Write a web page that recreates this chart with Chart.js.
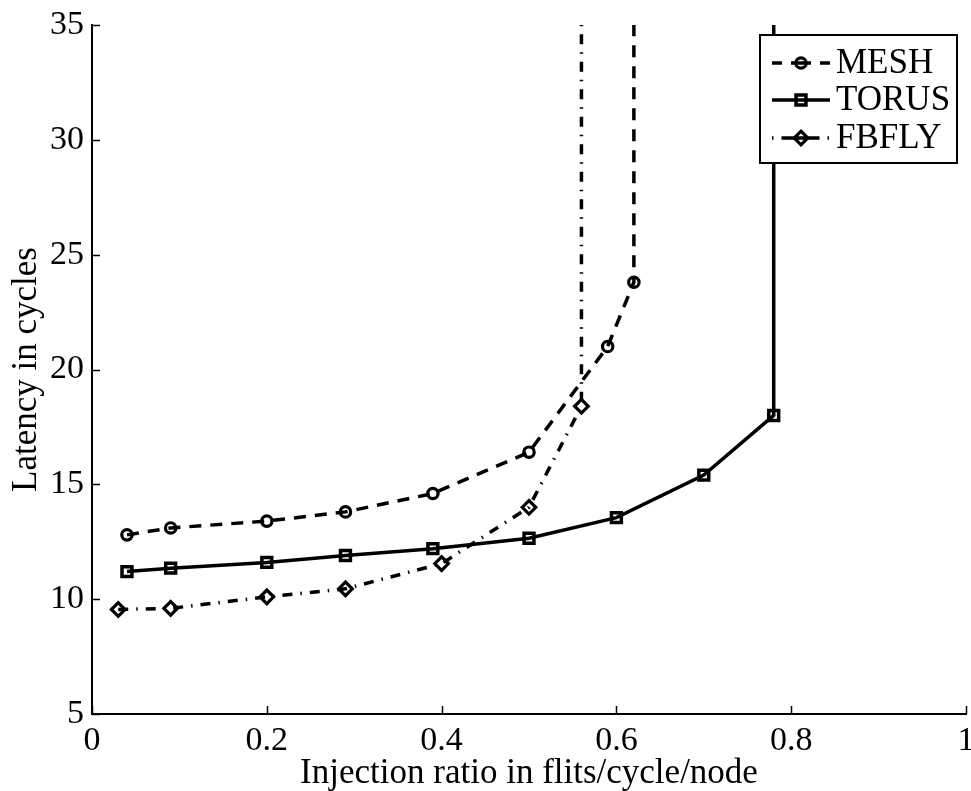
<!DOCTYPE html>
<html>
<head>
<meta charset="utf-8">
<script src="https://cdn.jsdelivr.net/npm/chart.js@4.4.0/dist/chart.umd.min.js"></script>
<style>
  body { margin: 0; background: #fff; }
  canvas { display: block; }
</style>
</head>
<body>
<canvas id="myChart" width="971" height="791"></canvas>
<script>
// values; last point of each series is where it shoots off the top
var meshX  = [0.04, 0.09, 0.2, 0.29, 0.39, 0.5, 0.59, 0.62, 0.62];
var meshY  = [12.8, 13.1, 13.4, 13.8, 14.6, 16.4, 21.0, 23.8, 35];
var torusX = [0.04, 0.09, 0.2, 0.29, 0.39, 0.5, 0.6, 0.7, 0.78, 0.78];
var torusY = [11.2, 11.35, 11.6, 11.9, 12.2, 12.65, 13.55, 15.4, 18.0, 35];
var fbflyX = [0.03, 0.09, 0.2, 0.29, 0.4, 0.5, 0.56, 0.56];
var fbflyY = [9.55, 9.6, 10.1, 10.45, 11.55, 14.0, 18.4, 35];

var seriesNames = ["MESH", "TORUS", "FBFLY"];
var xTitle = "Injection ratio in flits/cycle/node";
var yTitle = "Latency in cycles";

function toPoints(xs, ys) {
  var pts = [];
  for (var i = 0; i < xs.length; i++) {
    pts.push({ x: xs[i], y: ys[i] });
  }
  return pts;
}

Chart.defaults.font.family = "'Liberation Serif', 'Times New Roman', serif";
Chart.defaults.font.size = 34;
Chart.defaults.color = "#000";

var markerSize = { circle: 5.2, rect: 7, rectRot: 6.8 };

function radiusFor(style) {
  return function (ctx) {
    return ctx.raw && ctx.raw.y >= 35 ? 0 : markerSize[style];
  };
}

// MATLAB style ticks: drawn inside the axes
var innerTicks = {
  id: "innerTicks",
  afterDraw: function (chart) {
    var ctx = chart.ctx;
    var area = chart.chartArea;
    var xs = chart.scales.x, ys = chart.scales.y;
    ctx.save();
    ctx.strokeStyle = "#000";
    ctx.lineWidth = 1.5;
    ctx.beginPath();
    xs.ticks.forEach(function (t) {
      var px = Math.round(xs.getPixelForValue(t.value)) + 0.5;
      ctx.moveTo(px, area.bottom);
      ctx.lineTo(px, area.bottom - 8);
    });
    ys.ticks.forEach(function (t) {
      var py = Math.round(ys.getPixelForValue(t.value)) + 0.5;
      ctx.moveTo(area.left, py);
      ctx.lineTo(area.left + 8, py);
    });
    ctx.stroke();
    ctx.restore();
  }
};

function drawMarker(ctx, style, r, x, y) {
  ctx.beginPath();
  if (style === "circle") {
    ctx.arc(x, y, r, 0, Math.PI * 2);
  } else if (style === "rect") {
    var s = r * Math.SQRT1_2;
    ctx.rect(x - s, y - s, 2 * s, 2 * s);
  } else {
    ctx.moveTo(x, y - r);
    ctx.lineTo(x + r, y);
    ctx.lineTo(x, y + r);
    ctx.lineTo(x - r, y);
    ctx.closePath();
  }
  ctx.stroke();
}

// legend box in the upper right corner of the axes
var boxLegend = {
  id: "boxLegend",
  afterDraw: function (chart) {
    var ctx = chart.ctx;
    var area = chart.chartArea;
    var right = area.right - 9, top = area.top + 10;
    var w = 197, h = 128;
    var left = right - w;
    ctx.save();
    ctx.fillStyle = "#fff";
    ctx.fillRect(left, top, w, h);
    ctx.strokeStyle = "#000";
    ctx.lineWidth = 2;
    ctx.strokeRect(left, top, w, h);

    var rows = [top + 28, top + 65, top + 103];
    chart.data.datasets.forEach(function (ds, i) {
      var cy = rows[i];
      ctx.strokeStyle = "#000";
      ctx.lineWidth = ds.borderWidth;
      ctx.setLineDash(ds.legendDash || ds.borderDash || []);
      ctx.beginPath();
      ctx.moveTo(left + 12, cy);
      ctx.lineTo(left + 70, cy);
      ctx.stroke();
      ctx.setLineDash([]);
      ctx.lineWidth = ds.pointBorderWidth;
      drawMarker(ctx, ds.pointStyle, markerSize[ds.pointStyle], left + 41, cy);
      ctx.fillStyle = "#000";
      ctx.font = "35px 'Liberation Serif', serif";
      ctx.textBaseline = "middle";
      ctx.textAlign = "left";
      ctx.fillText(ds.label, left + 76, cy + 1);
    });
    ctx.restore();
  }
};

var ctx = document.getElementById("myChart").getContext("2d");
var myChart = new Chart(ctx, {
  type: "line",
  data: {
    datasets: [
      {
        label: seriesNames[0],
        data: toPoints(meshX, meshY),
        borderColor: "#000",
        borderWidth: 3.5,
        borderDash: [12, 9],
        legendDash: [10, 9, 20, 9],
        pointStyle: "circle",
        pointRadius: radiusFor("circle"),
        pointBorderWidth: 3.2,
        pointBorderColor: "#000",
        pointBackgroundColor: "rgba(0,0,0,0)",
        tension: 0
      },
      {
        label: seriesNames[1],
        data: toPoints(torusX, torusY),
        borderColor: "#000",
        borderWidth: 3.5,
        borderDash: [],
        pointStyle: "rect",
        pointRadius: radiusFor("rect"),
        pointBorderWidth: 3.5,
        pointBorderColor: "#000",
        pointBackgroundColor: "rgba(0,0,0,0)",
        tension: 0
      },
      {
        label: seriesNames[2],
        data: toPoints(fbflyX, fbflyY),
        borderColor: "#000",
        borderWidth: 3.5,
        borderDash: [10, 8, 1.5, 8],
        legendDash: [1.5, 8, 38, 8],
        pointStyle: "rectRot",
        pointRadius: radiusFor("rectRot"),
        pointBorderWidth: 3.2,
        pointBorderColor: "#000",
        pointBackgroundColor: "rgba(0,0,0,0)",
        tension: 0
      }
    ]
  },
  options: {
    responsive: false,
    animation: false,
    devicePixelRatio: 1,
    layout: {
      autoPadding: false,
      padding: { top: 25, right: 5, left: 0, bottom: 0 }
    },
    plugins: {
      legend: { display: false },
      tooltip: { enabled: false }
    },
    scales: {
      x: {
        type: "linear",
        min: 0,
        max: 1,
        grid: { display: false, drawTicks: false },
        border: { display: true, color: "#000", width: 2 },
        ticks: {
          stepSize: 0.2,
          padding: 7,
          maxRotation: 0,
          font: { size: 34 },
          callback: function (v) { return String(Math.round(v * 10) / 10); }
        },
        title: {
          display: true,
          text: xTitle,
          font: { size: 35, lineHeight: 1 },
          padding: { top: 0, bottom: 0 }
        },
        afterFit: function (scale) {
          scale.height = 77;
          scale.paddingLeft = 0;
          scale.paddingRight = 0;
        }
      },
      y: {
        type: "linear",
        min: 5,
        max: 35,
        grid: { display: false, drawTicks: false },
        border: { display: true, color: "#000", width: 2 },
        ticks: { stepSize: 5, padding: 8, font: { size: 34 } },
        title: {
          display: true,
          text: yTitle,
          font: { size: 35, lineHeight: 1 },
          padding: { top: 9, bottom: 0 }
        },
        afterFit: function (scale) {
          scale.width = 92;
          scale.paddingTop = 0;
          scale.paddingBottom = 0;
        }
      }
    }
  },
  plugins: [innerTicks, boxLegend]
});
</script>
</body>
</html>
